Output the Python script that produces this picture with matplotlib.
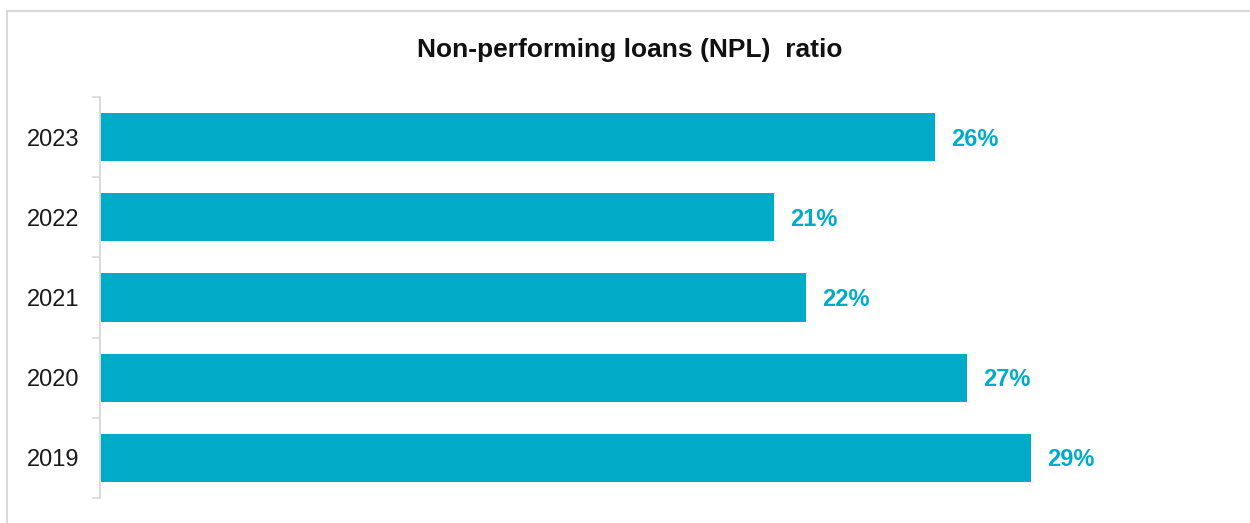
"""Horizontal bar chart of the non-performing loans (NPL) ratio by year."""

import matplotlib.pyplot as plt
from matplotlib.patches import Rectangle
from matplotlib.ticker import FixedLocator

years = ["2019", "2020", "2021", "2022", "2023"]
npl_ratio = [29, 27, 22, 21, 26]

BAR_COLOR = "#00ABC7"
GRID_GRAY = "#D9D9D9"

plt.rcParams["font.family"] = ["Liberation Sans", "DejaVu Sans"]


def main():
    fig = plt.figure(figsize=(12.5, 5.23), dpi=100)
    ax = fig.add_axes([0.08, 0.0478, 0.88, 0.7667])

    positions = list(range(len(years)))
    ax.barh(positions, npl_ratio, height=0.6, color=BAR_COLOR)

    for pos, value in zip(positions, npl_ratio):
        ax.annotate(f"{value}%", xy=(value, pos), xytext=(11.5, -1.5),
                    textcoords="offset points", ha="left", va="center",
                    fontsize=17, fontweight="bold", color=BAR_COLOR)

    ax.set_xlim(0, 34.26)
    ax.set_ylim(-0.5, len(years) - 0.5)
    ax.set_yticks(positions)
    ax.set_yticklabels(years, fontsize=17, color="#1a1a1a")
    ax.yaxis.set_minor_locator(FixedLocator([p - 0.5 for p in positions] + [len(years) - 0.5]))
    ax.tick_params(axis="y", which="major", length=0, pad=15)
    ax.tick_params(axis="y", which="minor", length=6, width=1.2, color=GRID_GRAY)
    ax.set_xticks([])

    for side in ("top", "right", "bottom"):
        ax.spines[side].set_visible(False)
    ax.spines["left"].set_color(GRID_GRAY)
    ax.spines["left"].set_linewidth(1.4)

    fig.text(0.504, 0.905, "Non-performing loans (NPL)  ratio", ha="center", va="center",
             fontsize=19, fontweight="bold", color="#111111")

    # light frame around the chart area, running off the right and bottom edges
    fig.add_artist(Rectangle((7 / 1250, -0.1), 1.1, 1.1 - 11 / 523, transform=fig.transFigure,
                             fill=False, edgecolor=GRID_GRAY, linewidth=1.5))

    fig.savefig("out.png", dpi=100)


if __name__ == "__main__":
    main()
